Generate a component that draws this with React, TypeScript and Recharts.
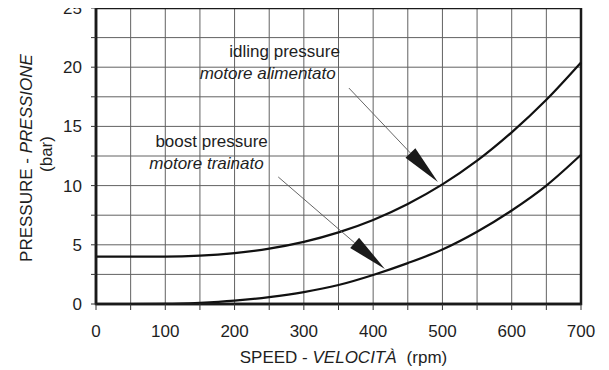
import React from "react";
import {
  LineChart,
  Line,
  XAxis,
  YAxis,
  CartesianGrid,
  ReferenceArea,
  ReferenceLine,
  ReferenceDot,
  Label,
} from "recharts";

const speeds = [0, 50, 100, 150, 200, 250, 300, 350, 400, 450, 500, 550, 600, 650, 700];
const idlingPressure = [4.0, 4.0, 4.0, 4.08, 4.3, 4.68, 5.25, 6.05, 7.1, 8.45, 10.1, 12.1, 14.5, 17.25, 20.4];
const boostPressure = [0, 0, 0.01, 0.1, 0.28, 0.58, 1.0, 1.6, 2.45, 3.45, 4.6, 6.1, 7.9, 10.0, 12.6];

const xTicks = [0, 50, 100, 150, 200, 250, 300, 350, 400, 450, 500, 550, 600, 650, 700];
const yTicks = [0, 2.5, 5, 7.5, 10, 12.5, 15, 17.5, 20, 22.5, 25];

const titleText = "CADUTA DI PRESSIONE";
const xLabelMain = "SPEED - ";
const xLabelItalic = "VELOCITÀ";
const xLabelUnit = "(rpm)";
const yLabelMain = "PRESSURE - ";
const yLabelItalic = "PRESSIONE";
const yLabelUnit = "(bar)";

const annotations = [
  { x: 352, y: 20.9, text: "idling pressure", italic: false },
  { x: 346, y: 19.0, text: "motore alimentato", italic: true },
  { x: 248, y: 13.26, text: "boost pressure", italic: false },
  { x: 242, y: 11.4, text: "motore trainato", italic: true },
];

const arrows = [
  { x1: 365, y1: 18.24, x2: 493.5, y2: 10.3 },
  { x1: 263, y1: 10.73, x2: 417, y2: 2.96 },
];

const data = speeds.map((s, i) => ({
  speed: s,
  idling: idlingPressure[i],
  boost: boostPressure[i],
}));

const FONT = "'Liberation Sans', Arial, sans-serif";
const TEXT_COLOR = "#1e1e1e";

const ArrowShape = (props: any) => {
  const { x1, y1, x2, y2 } = props;
  if ([x1, y1, x2, y2].some((v) => v === undefined || isNaN(v))) return <g />;
  const dx = x2 - x1;
  const dy = y2 - y1;
  const len = Math.sqrt(dx * dx + dy * dy);
  const ux = dx / len;
  const uy = dy / len;
  const headLen = 40;
  const halfW = 6.8;
  const bx = x2 - ux * headLen;
  const by = y2 - uy * headLen;
  const px = -uy;
  const py = ux;
  const pts = `${x2},${y2} ${bx + px * halfW},${by + py * halfW} ${bx - px * halfW},${by - py * halfW}`;
  return (
    <g>
      <line x1={x1} y1={y1} x2={bx} y2={by} stroke="#555" strokeWidth={0.9} />
      <polygon points={pts} fill="#1a1a1a" />
    </g>
  );
};

const TextShape = (text: string, italic: boolean) => (props: any) => {
  const { cx, cy } = props;
  return (
    <text
      x={cx}
      y={cy}
      textAnchor="end"
      fontFamily={FONT}
      fontSize={17}
      fontStyle={italic ? "italic" : "normal"}
      fill={TEXT_COLOR}
    >
      {text}
    </text>
  );
};

const YLabel = (props: any) => {
  const vb = props.viewBox || { x: 0, y: 8, width: 96, height: 296 };
  const cy = vb.y + vb.height / 2;
  const x1 = vb.x + 32;
  const x2 = vb.x + 52;
  return (
    <g fontFamily={FONT} fontSize={17} fill={TEXT_COLOR}>
      <text x={x1} y={cy + 2} textAnchor="middle" transform={`rotate(-90, ${x1}, ${cy + 2})`}>
        {yLabelMain}
        <tspan fontStyle="italic">{yLabelItalic}</tspan>
      </text>
      <text x={x2} y={cy - 2} textAnchor="middle" transform={`rotate(-90, ${x2}, ${cy - 2})`}>
        {yLabelUnit}
      </text>
    </g>
  );
};

const XLabel = (props: any) => {
  const vb = props.viewBox || { x: 96, y: 304, width: 485, height: 66 };
  const cx = vb.x + vb.width / 2 + 5;
  const y = vb.y + 59;
  return (
    <text x={cx} y={y} textAnchor="middle" fontFamily={FONT} fontSize={17} fill={TEXT_COLOR}>
      {xLabelMain}
      <tspan fontStyle="italic">{xLabelItalic}</tspan>
      <tspan dx={10}>{xLabelUnit}</tspan>
    </text>
  );
};

export default function App() {
  return (
    <div
      style={{
        position: "relative",
        width: 609,
        height: 370,
        margin: "-8px 0 0 -8px",
        overflow: "hidden",
        background: "#fff",
      }}
    >
      <div
        style={{
          position: "absolute",
          top: -11,
          left: 0,
          width: 680,
          textAlign: "center",
          fontFamily: FONT,
          fontSize: 17,
          color: "#888",
          lineHeight: "17px",
          letterSpacing: 0.5,
        }}
      >
        {titleText}
      </div>
      <LineChart
        width={609}
        height={370}
        data={data}
        margin={{ top: 8, right: 28, left: 0, bottom: 0 }}
        style={{ position: "relative" }}
      >
        <CartesianGrid stroke="#626262" strokeWidth={1} />
        <XAxis
          dataKey="speed"
          type="number"
          domain={[0, 700]}
          ticks={xTicks}
          interval={0}
          height={66}
          tickSize={6}
          tickMargin={15}
          tickLine={{ stroke: "#333" }}
          axisLine={{ stroke: "#1a1a1a", strokeWidth: 2.5 }}
          tick={{ fontFamily: FONT, fontSize: 17, fill: TEXT_COLOR }}
          tickFormatter={(v: number) => (v % 100 === 0 ? String(v) : "")}
        >
          <Label content={<XLabel />} />
        </XAxis>
        <YAxis
          type="number"
          domain={[0, 25]}
          ticks={yTicks}
          interval={0}
          width={96}
          tickSize={5}
          tickMargin={9}
          tickLine={{ stroke: "#333" }}
          axisLine={{ stroke: "#1a1a1a", strokeWidth: 2.5 }}
          tick={{ fontFamily: FONT, fontSize: 17, fill: TEXT_COLOR }}
          tickFormatter={(v: number) => (v % 5 === 0 ? String(v) : "")}
        >
          <Label content={<YLabel />} />
        </YAxis>
        <ReferenceArea
          x1={0}
          x2={700}
          y1={0}
          y2={25}
          fill="none"
          stroke="#1a1a1a"
          strokeWidth={2.5}
          fillOpacity={0}
          ifOverflow="visible"
        />
        <Line
          type="monotone"
          dataKey="idling"
          stroke="#111"
          strokeWidth={2.2}
          dot={false}
          isAnimationActive={false}
        />
        <Line
          type="monotone"
          dataKey="boost"
          stroke="#111"
          strokeWidth={2.2}
          dot={false}
          isAnimationActive={false}
        />
        {arrows.map((a, i) => (
          <ReferenceLine
            key={`arrow-${i}`}
            segment={[
              { x: a.x1, y: a.y1 },
              { x: a.x2, y: a.y2 },
            ]}
            shape={ArrowShape}
            stroke="#555"
          />
        ))}
        {annotations.map((a, i) => (
          <ReferenceDot
            key={`ann-${i}`}
            x={a.x}
            y={a.y}
            r={0}
            shape={TextShape(a.text, a.italic)}
          />
        ))}
      </LineChart>
    </div>
  );
}
